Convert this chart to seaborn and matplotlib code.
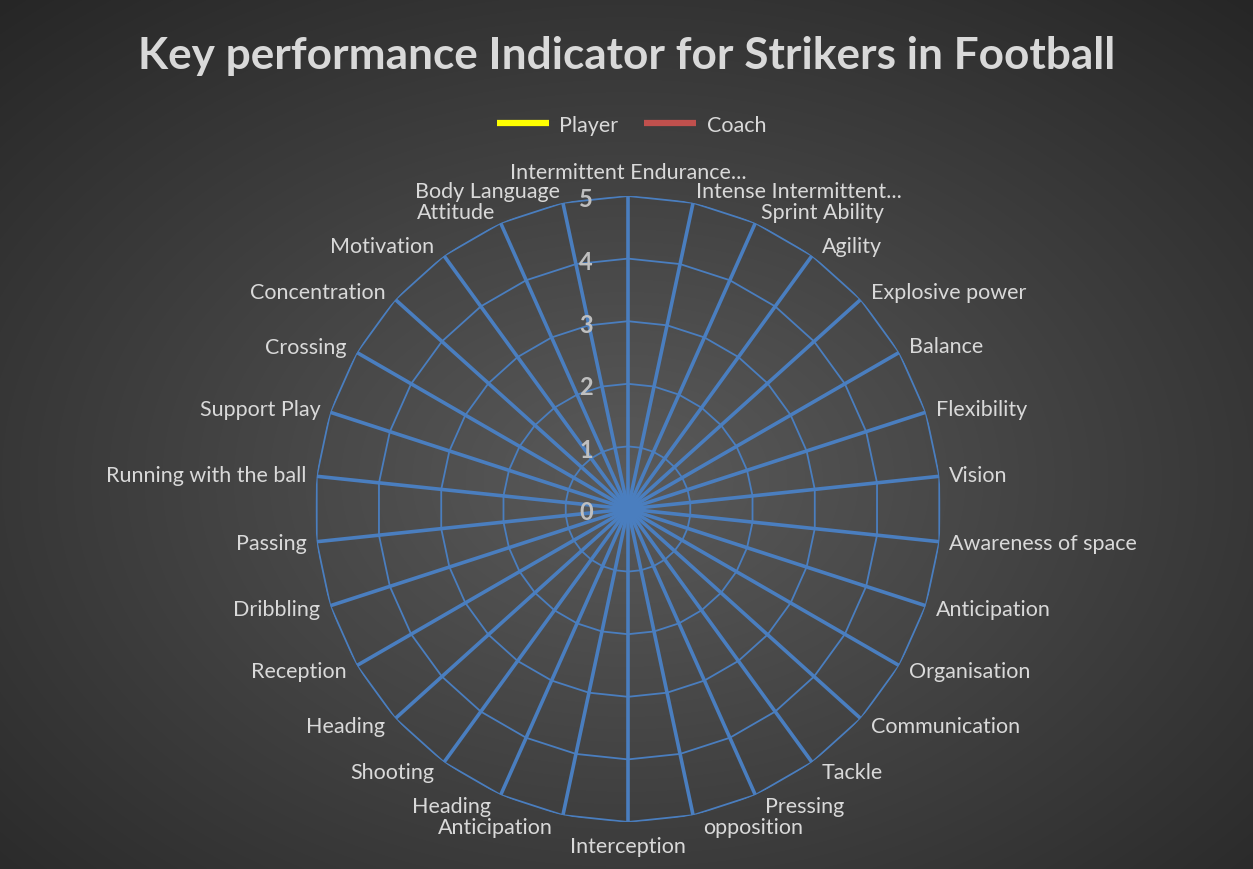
import numpy as np
import pandas as pd
import matplotlib
matplotlib.use("Agg")
import matplotlib.pyplot as plt
import seaborn as sns

##-------------------------------------------
## data (30 spokes, clockwise from the top)
categories = ['Intermittent Endurance...', 'Intense Intermittent...', 'Sprint Ability', 'Agility',
              'Explosive power', 'Balance', 'Flexibility', 'Vision', 'Awareness of space',
              'Anticipation', 'Organisation', 'Communication', 'Tackle', 'Pressing', 'opposition',
              'Interception', 'Anticipation', 'Heading', 'Shooting', 'Heading', 'Reception',
              'Dribbling', 'Passing', 'Running with the ball', 'Support Play', 'Crossing',
              'Concentration', 'Motivation', 'Attitude', 'Body Language']
player = [0, 0, 0, 0, 0, 0, 0, 0, 0, 0, 0, 0, 0, 0, 0, 0, 0, 0, 0, 0, 0, 0, 0, 0, 0, 0, 0, 0, 0, 0]
coach = [0, 0, 0, 0, 0, 0, 0, 0, 0, 0, 0, 0, 0, 0, 0, 0, 0, 0, 0, 0, 0, 0, 0, 0, 0, 0, 0, 0, 0, 0]
rings = [0, 1, 2, 3, 4, 5]

sns.set_theme(style="dark")
plt.rcParams['font.family'] = ['Lato', 'DejaVu Sans']

GRID = '#4a7ebf'
TXT = '#d9d9d9'

fig = plt.figure(figsize=(12.53, 8.70), dpi=100)

##background: radial gradient like the Excel chart area
bg = fig.add_axes([0, 0, 1, 1], zorder=-10)
yy, xx = np.mgrid[0:870, 0:1253]
d = np.sqrt(((xx - 626) / 800.0) ** 2 + ((yy - 480) / 560.0) ** 2)
d = np.clip(d / 1.16, 0, 1)
shade = (90 - 52 * d) / 255.0
bg.imshow(np.dstack([shade, shade, shade]), aspect='auto', extent=[0, 1, 0, 1])
bg.axis('off')

##polar axes, centre at (628, 510) px, radius 313 px
cx, cy, R = 628 / 1253, 1 - 510 / 870, 313
ax = fig.add_axes([cx - R / 1253, cy - R / 870, 2 * R / 1253, 2 * R / 870], projection='polar')
ax.set_facecolor('none')
ax.set_theta_zero_location('N')
ax.set_theta_direction(-1)
ax.set_ylim(0, 5)
ax.grid(False)
ax.spines['polar'].set_visible(False)
ax.set_xticks([])
ax.set_yticks([])

angles = np.linspace(0, 2 * np.pi, len(categories), endpoint=False)
closed = np.append(angles, angles[0])

# ring polygons and spokes
for r in rings[1:]:
    ax.plot(closed, [r] * len(closed), color=GRID, lw=1.3, zorder=2)
ax.vlines(angles, 0, 5, color=GRID, lw=2.6, zorder=3)

# series (all zero -> collapse to the centre)
df = pd.DataFrame({'angle': np.tile(closed, 2),
                   'value': np.append(player + player[:1], coach + coach[:1]),
                   'series': ['Player'] * len(closed) + ['Coach'] * len(closed)})
sns.lineplot(data=df, x='angle', y='value', hue='series', palette={'Player': '#ffff00', 'Coach': '#c0504d'},
             sort=False, estimator=None, lw=4.5, ax=ax, legend=False, zorder=1, solid_capstyle='butt')

# category labels
for a, lab in zip(angles, categories):
    s, c = np.sin(a), np.cos(a)
    if abs(s) < 0.01:
        ha = 'center'
        va = 'bottom' if c > 0 else 'top'
        off = (0, 14 if c > 0 else -14)
    else:
        ha = 'left' if s > 0 else 'right'
        va = 'center'
        off = (np.sign(s) * (10 - max(0, c - 0.8) * 40), 12 * c)
    ax.annotate(lab, xy=(a, 5), xytext=off, textcoords='offset pixels', ha=ha, va=va,
                color=TXT, fontsize=15.5, annotation_clip=False)

# ring value labels along the top spoke
for r in rings:
    ax.annotate(str(r), xy=(0, r), xytext=(-42, -3), textcoords='offset pixels', ha='center', va='center',
                color='#bfbfbf', fontsize=17, fontweight='bold', annotation_clip=False)

##title and legend
fig.text(0.5, 1 - 56 / 870, 'Key performance Indicator for Strikers in Football', ha='center', va='center',
         color=TXT, fontsize=31.8, fontweight='bold')
handles = [plt.Line2D([], [], color='#ffff00', lw=4.5, solid_capstyle='butt'),
           plt.Line2D([], [], color='#c0504d', lw=4.5, solid_capstyle='butt')]
fig.legend(handles, ['Player', 'Coach'], loc='center', bbox_to_anchor=(0.5 + 5 / 1253, 1 - 126 / 870), ncol=2,
           frameon=False, fontsize=15.5, labelcolor=TXT, handlelength=2.4, columnspacing=1.2,
           handletextpad=0.5)

fig.savefig('out.png', dpi=100)
